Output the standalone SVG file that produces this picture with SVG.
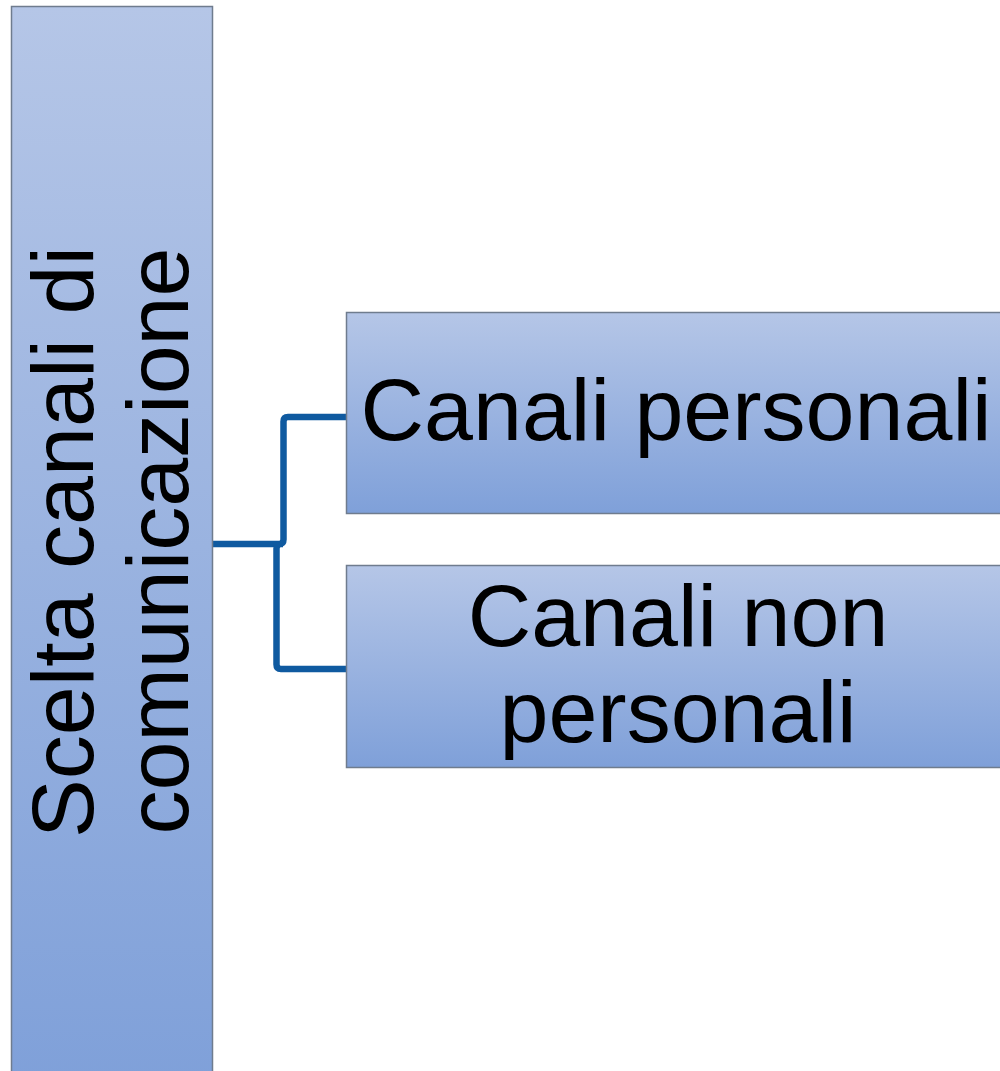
<svg xmlns="http://www.w3.org/2000/svg" width="1000" height="1071" viewBox="0 0 1000 1071">
  <defs>
    <linearGradient id="fillGrad" x1="0" y1="0" x2="0" y2="1">
      <stop offset="0" stop-color="#b5c6e7"/>
      <stop offset="1" stop-color="#7fa0d9"/>
    </linearGradient>
    <style>
      .box { fill: url(#fillGrad); stroke: #6f7c8e; stroke-width: 1.5; }
      .lbl { font-family: "Liberation Sans", Arial, sans-serif; font-size: 88px; fill: #000; text-anchor: middle; }
      .conn { fill: none; stroke: #0f5aa0; stroke-width: 6.5; stroke-linejoin: round; }
    </style>
  </defs>
  <rect x="0" y="0" width="1000" height="1071" fill="#ffffff"/>

  <g id="connectors">
    <path class="conn" d="M213,544 H279 Q283.5,544 283.5,539.5 V421.5 Q283.5,417 288,417 H346"/>
    <path class="conn" d="M283,544 H281 Q276.5,544 276.5,548.5 V664.5 Q276.5,669 281,669 H346"/>
  </g>

  <g id="node-root">
    <rect class="box" x="11.5" y="6.5" width="201" height="1080"/>
    <text class="lbl" transform="translate(93,542) rotate(-90)">Scelta canali di</text>
    <text class="lbl" transform="translate(188,541) rotate(-90)">comunicazione</text>
  </g>

  <g id="node-personali">
    <rect class="box" x="346.5" y="312.5" width="670" height="201"/>
    <text class="lbl" x="676" y="440">Canali personali</text>
  </g>

  <g id="node-nonpersonali">
    <rect class="box" x="346.5" y="565.5" width="670" height="202"/>
    <text class="lbl" x="678" y="646">Canali non</text>
    <text class="lbl" x="678" y="742">personali</text>
  </g>
</svg>
